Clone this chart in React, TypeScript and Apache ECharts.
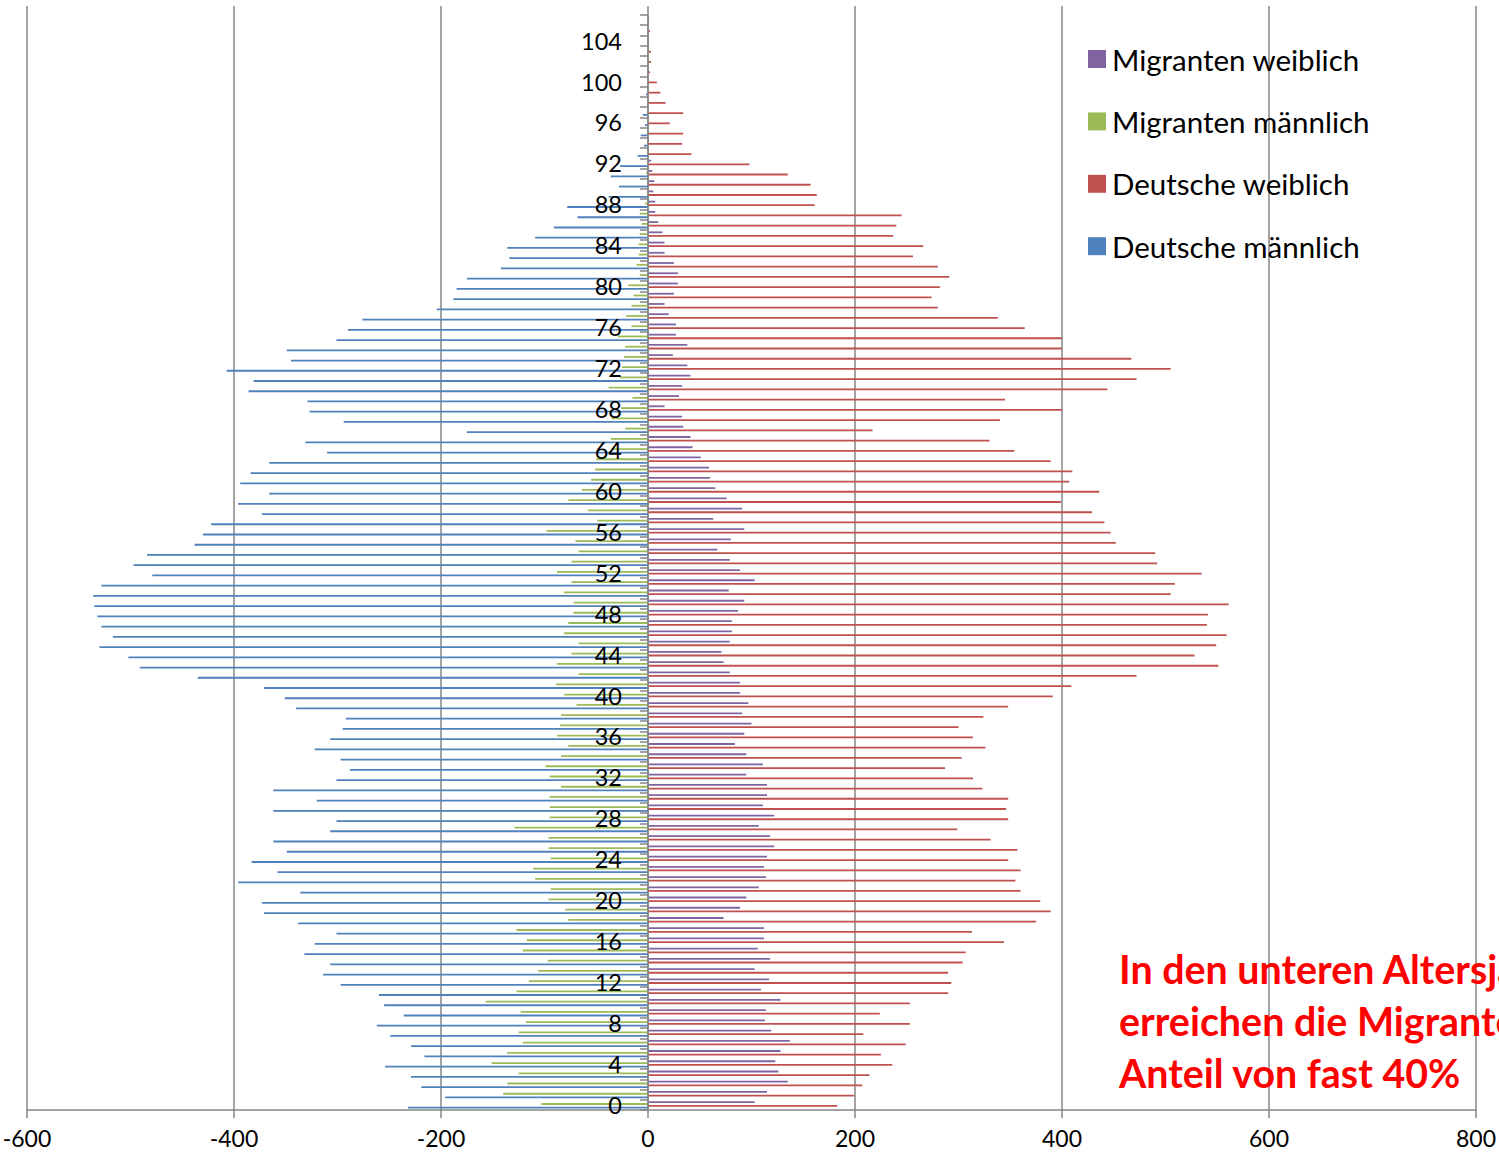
import React, { useEffect, useRef } from "react";
import * as echarts from "echarts";

// Age categories 0..106
const ages: string[] = Array.from({ length: 107 }, (_, i) => String(i));

const xTicks = { min: -600, max: 800, interval: 200 };
const xTickValues = [-600, -400, -200, 0, 200, 400, 600, 800];

// Deutsche männlich (negative, left)
const deutscheMaennlich = [
  -232, -196, -219, -229, -254, -216, -229, -249, -262, -236,
  -255, -260, -297, -314, -307, -332, -322, -301, -338, -371,
  -373, -336, -396, -358, -383, -349, -362, -307, -301, -362,
  -320, -362, -301, -288, -297, -322, -307, -295, -292, -340,
  -351, -371, -435, -491, -502, -530, -517, -528, -532, -535,
  -536, -528, -479, -497, -484, -438, -430, -422, -373, -396,
  -366, -394, -384, -366, -310, -331, -175, -294, -327, -329,
  -386, -381, -407, -345, -349, -301, -290, -276, -204, -188,
  -185, -175, -142, -134, -136, -109, -91, -68, -78, -38,
  -28, -36, -27, -10, -4, -7, -3, -5, -1, -2,
  0, 0, 0, 0, 0, 0, 0,
];

// Migranten männlich (negative, left)
const migrantenMaennlich = [
  -103, -140, -136, -125, -151, -136, -121, -125, -118, -123,
  -157, -127, -115, -106, -97, -121, -117, -127, -77, -80,
  -96, -94, -109, -111, -94, -96, -96, -129, -95, -95,
  -95, -84, -95, -99, -84, -77, -88, -85, -84, -69,
  -81, -89, -67, -88, -74, -67, -81, -77, -72, -72,
  -81, -74, -88, -74, -67, -70, -98, -49, -58, -77,
  -64, -55, -51, -50, -35, -36, -22, -35, -26, -15,
  -38, -27, -25, -23, -22, -29, -16, -21, -16, -14,
  -19, -8, -11, -9, -9, -8, -6, -8, -3, -1,
  -1, -2, -1, 0, 0, 0, 0, 0, 0, 0,
  0, 0, 0, 0, 0, 0, 0,
];

// Deutsche weiblich (positive, right)
const deutscheWeiblich = [
  183, 199, 207, 214, 236, 225, 249, 208, 253, 224,
  253, 290, 293, 290, 304, 307, 344, 313, 375, 389,
  379, 360, 355, 360, 348, 357, 331, 299, 348, 346,
  348, 323, 314, 287, 303, 326, 314, 300, 324, 348,
  391, 409, 472, 551, 528, 549, 559, 540, 541, 561,
  505, 509, 535, 492, 490, 452, 447, 441, 429, 399,
  436, 407, 410, 389, 354, 330, 217, 340, 400, 345,
  444, 472, 505, 467, 400, 400, 364, 338, 280, 274,
  282, 291, 280, 256, 266, 237, 240, 245, 161, 163,
  157, 135, 98, 42, 33, 34, 21, 34, 17, 12,
  8.5, 2, 3, 3, 1, 2, 1,
];

// Migranten weiblich (positive, right)
const migrantenWeiblich = [
  103, 115, 135, 126, 123, 128, 137, 119, 113, 114,
  128, 109, 117, 103, 118, 106, 112, 112, 73, 89,
  95, 107, 114, 112, 115, 122, 118, 107, 122, 111,
  115, 115, 95, 111, 95, 84, 93, 100, 91, 97,
  89, 89, 79, 73, 71, 79, 81, 81, 87, 93,
  78, 103, 89, 79, 67, 80, 93, 63, 91, 76,
  65, 60, 59, 51, 43, 41, 34, 33, 16, 30,
  33, 41, 38, 24, 38, 27, 27, 20, 16, 25,
  29, 29, 25, 16, 16, 14, 10, 7, 7, 5,
  6, 4, 3, 1, 1, 0, 0, 0, 0, 0,
  0, 0, 0, 0, 0, 0, 0,
];

const legendOrder = ["Migranten weiblich", "Migranten männlich", "Deutsche weiblich", "Deutsche männlich"];

const noteLines = ["In den unteren Altersjahrgängen", "erreichen die Migranten einen", "Anteil von fast 40%"];

const FONT = "Lato, 'Noto Sans', sans-serif";

const W = 1499;
const H = 1167;
const GRID = { left: 27, right: 23, top: 15, bottom: 57 };
const GRIDLINE_TOP = 6;

export default function App() {
  const ref = useRef<HTMLDivElement>(null);
  useEffect(() => {
    if (!ref.current) return;
    const chart = echarts.init(ref.current, undefined, { renderer: "svg" });
    const gridWidth = W - GRID.left - GRID.right;
    const zeroOffset = ((0 - xTicks.min) / (xTicks.max - xTicks.min)) * gridWidth;
    const barW = 1.8;
    const mk = (name: string, data: number[], color: string) => ({
      name,
      type: "bar",
      data,
      barWidth: barW,
      barGap: "0%",
      itemStyle: { color },
      emphasis: { disabled: true },
    });
    chart.setOption({
      animation: false,
      backgroundColor: "#ffffff",
      textStyle: { fontFamily: FONT },
      grid: { ...GRID, containLabel: false, outerBoundsMode: "none" },
      legend: {
        orient: "vertical",
        left: 1088,
        top: 44,
        padding: 0,
        itemWidth: 18,
        itemHeight: 18,
        itemGap: 32.4,
        icon: "rect",
        data: legendOrder,
        textStyle: { fontSize: 29.5, color: "#000", fontFamily: FONT, padding: [0, 0, 0, 1] },
      },
      xAxis: {
        type: "value",
        min: xTicks.min,
        max: xTicks.max,
        interval: xTicks.interval,
        axisLine: { show: true, lineStyle: { color: "#868686", width: 1.5 } },
        axisTick: { show: true, length: 8, lineStyle: { color: "#868686", width: 1.5 } },
        axisLabel: { color: "#000", fontSize: 23, margin: 16, fontFamily: FONT },
        splitLine: { show: true, lineStyle: { color: "#868686", width: 1.5 } },
      },
      yAxis: {
        type: "category",
        data: ages,
        position: "left",
        offset: -zeroOffset,
        z: 5,
        axisLine: { show: true, onZero: false, lineStyle: { color: "#868686", width: 1.5 } },
        axisTick: { show: true, interval: 0, length: 8, lineStyle: { color: "#868686", width: 1.5 } },
        axisLabel: { interval: 3, color: "#000", fontSize: 23.5, margin: 26, fontFamily: FONT },
        splitLine: { show: false },
      },
      series: [
        mk("Migranten weiblich", migrantenWeiblich, "#8064A2"),
        mk("Migranten männlich", migrantenMaennlich, "#9BBB59"),
        mk("Deutsche weiblich", deutscheWeiblich, "#C0504D"),
        mk("Deutsche männlich", deutscheMaennlich, "#4F81BD"),
      ],
    });
    // Gridlines in the reference reach a little above the plot top
    const extLines = xTickValues.map((v) => {
      const px = chart.convertToPixel({ xAxisIndex: 0 }, v) as number;
      return {
        type: "line",
        silent: true,
        shape: { x1: px, y1: GRIDLINE_TOP, x2: px, y2: GRID.top },
        style: { stroke: "#868686", lineWidth: 1.5 },
      };
    });
    const notes = noteLines.map((t, i) => ({
      type: "text",
      left: 1119,
      top: 949 + i * 52,
      style: { text: t, fill: "#FF0000", font: `bold 39.4px ${FONT}` },
    }));
    chart.setOption({ graphic: [...extLines, ...notes] });
    return () => chart.dispose();
  }, []);
  return (
    <div
      ref={ref}
      style={{ position: "fixed", left: 0, top: 0, width: W, height: H, background: "#fff" }}
    />
  );
}
